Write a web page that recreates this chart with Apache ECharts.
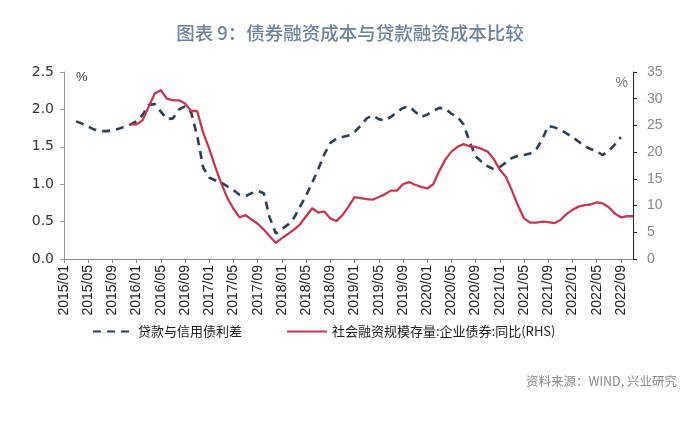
<!DOCTYPE html>
<html><head><meta charset="utf-8">
<script src="https://cdn.jsdelivr.net/npm/echarts@6/dist/echarts.min.js"></script>
<style>html,body{margin:0;padding:0;background:#fff}#c{width:700px;height:421px}</style>
</head><body><div id="c"></div>
<script>
// months 2015/01 .. 2022/11
const categories = [];
for (let y = 2015; y <= 2022; y++) for (let m = 1; m <= 12; m++) {
  if (y === 2022 && m > 11) break;
  categories.push(y + '/' + (m < 10 ? '0' + m : m));
}
// 贷款与信用债利差 (left axis), starting 2015/03, ending 2022/09
const spreadStart = 2;
const spreadValues = [1.84,1.81,1.77,1.73,1.71,1.71,1.72,1.74,1.77,1.80,
 1.84,1.93,2.06,2.07,1.97,1.87,1.88,2.00,2.04,1.96,
 1.65,1.22,1.09,1.05,1.02,0.97,0.92,0.86,0.84,0.88,
 0.91,0.88,0.55,0.34,0.40,0.46,0.55,0.70,0.85,1.02,
 1.20,1.40,1.55,1.61,1.63,1.65,1.70,1.78,1.88,1.92,
 1.87,1.85,1.90,1.96,2.02,2.04,1.97,1.90,1.93,1.98,
 2.02,2.01,1.94,1.90,1.80,1.57,1.37,1.30,1.24,1.20,
 1.23,1.29,1.35,1.38,1.39,1.41,1.46,1.60,1.78,1.76,
 1.73,1.68,1.63,1.57,1.51,1.47,1.44,1.39,1.45,1.53,1.63];
// 社会融资规模存量:企业债券:同比 (right axis), starting 2015/12
const bondStart = 11;
const bondValues = [25.2,25.2,26.0,28.5,31.0,31.6,30.0,29.7,29.7,29.1,
 27.7,27.7,23.6,20.6,17.2,14.1,11.4,9.4,7.8,8.2,
 7.4,6.6,5.5,4.2,3.0,3.9,4.7,5.5,6.5,8.0,
 9.5,8.7,8.9,7.6,7.1,8.2,9.8,11.6,11.4,11.2,
 11.1,11.6,12.1,12.8,12.8,14.0,14.4,13.9,13.5,13.2,
 14.0,16.5,18.6,20.1,21.0,21.5,21.1,21.0,20.6,20.1,
 18.7,16.7,15.4,12.8,10.0,7.6,6.8,6.8,7.0,6.9,
 6.7,7.3,8.4,9.2,9.8,10.1,10.2,10.6,10.4,9.7,
 8.5,7.8,8.0,8.0];
const leftTicks = [0, 2.5, 0.5];
const rightTicks = [0, 35, 5];

function pad(start, vals) {
  const out = categories.map(() => null);
  vals.forEach((v, i) => { out[start + i] = v; });
  return out;
}
const spreadData = pad(spreadStart, spreadValues);
const bondData = pad(bondStart, bondValues);

const cjk = '"Noto Sans CJK SC", "Noto Sans", sans-serif';
const chart = echarts.init(document.getElementById('c'));
chart.setOption({
  animation: false,
  title: {
    text: '图表 9：债券融资成本与贷款融资成本比较',
    left: 'center', top: 19,
    textStyle: { fontFamily: cjk, fontSize: 18.5, fontWeight: 500, color: '#6d8198' }
  },
  grid: { left: 64, right: 67, top: 72, bottom: 162, containLabel: false },
  legend: {
    bottom: 78, left: 87, itemGap: 44, itemWidth: 40, itemHeight: 10,
    textStyle: { fontFamily: cjk, fontSize: 13, color: '#222' },
    data: [
      { name: '贷款与信用债利差', itemStyle: { opacity: 0 } },
      { name: '社会融资规模存量:企业债券:同比(RHS)', itemStyle: { opacity: 0 } }
    ]
  },
  graphic: [{
    type: 'text', right: 23, top: 375,
    style: { text: '资料来源：WIND, 兴业研究', font: '12.5px ' + cjk, fill: '#8a8a8a' }
  }],
  xAxis: {
    type: 'category', data: categories, boundaryGap: false,
    axisLine: { lineStyle: { color: '#888' } },
    axisTick: { interval: 3, length: 4, lineStyle: { color: '#888' } },
    axisLabel: { interval: 3, rotate: 90, fontSize: 14, color: '#222', fontFamily: 'Liberation Sans, Arial', margin: 6 },
    splitLine: { show: false }
  },
  yAxis: [{
    type: 'value', min: leftTicks[0], max: leftTicks[1], interval: leftTicks[2],
    name: '%', nameLocation: 'end', nameGap: -12,
    nameTextStyle: { align: 'left', padding: [0, 0, 0, 12], color: '#333', fontSize: 13 },
    axisLine: { show: true, lineStyle: { color: '#999' } },
    axisTick: { show: true, length: 4, lineStyle: { color: '#999' } },
    axisLabel: { formatter: v => v.toFixed(1), fontSize: 14, color: '#333', fontFamily: 'DejaVu Sans', margin: 10 },
    splitLine: { show: false }
  }, {
    type: 'value', min: rightTicks[0], max: rightTicks[1], interval: rightTicks[2], position: 'right',
    name: '%', nameLocation: 'end', nameGap: -18,
    nameTextStyle: { align: 'right', padding: [0, 5, 0, 0], color: '#777', fontSize: 14 },
    axisLine: { show: true, lineStyle: { color: '#222' } },
    axisTick: { show: true, length: 4, lineStyle: { color: '#222' } },
    axisLabel: { fontSize: 14, color: '#888', margin: 14 },
    splitLine: { show: false }
  }],
  series: [{
    name: '贷款与信用债利差', type: 'line', yAxisIndex: 0, data: spreadData,
    showSymbol: false, symbol: 'none', smooth: false,
    lineStyle: { color: '#2f3d55', width: 2.6, type: [8, 6] },
    itemStyle: { color: '#2f3d55' }
  }, {
    name: '社会融资规模存量:企业债券:同比(RHS)', type: 'line', yAxisIndex: 1, data: bondData,
    showSymbol: false, symbol: 'none', smooth: false,
    lineStyle: { color: '#c23a52', width: 2.3 },
    itemStyle: { color: '#c23a52' }
  }]
});
</script></body></html>
